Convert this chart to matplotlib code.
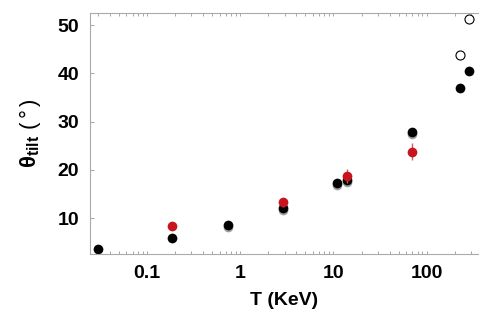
import numpy as np
import matplotlib
matplotlib.use("Agg")
import matplotlib.pyplot as plt
from matplotlib.ticker import LogLocator, NullFormatter, FixedLocator

plt.rcParams['font.family'] = ['Liberation Sans', 'DejaVu Sans']
plt.rcParams['mathtext.fontset'] = 'custom'
plt.rcParams['mathtext.bf'] = 'Liberation Sans:bold'
plt.rcParams['mathtext.rm'] = 'Liberation Sans'

# black points (filled)
black_T = [0.0296, 0.186, 0.74, 2.9, 11.0, 13.8, 69, 227, 283]
black_theta = [3.6, 5.9, 8.6, 12.1, 17.2, 18.0, 27.9, 36.9, 40.4]

# gray shadow points
gray_T = [0.74, 2.9, 11.0, 13.8, 69]
gray_theta = [8.1, 11.8, 16.8, 17.6, 27.5]

# red points with error bars
red_T = [0.186, 2.9, 13.8, 69]
red_theta = [8.35, 13.3, 18.7, 23.8]
red_err = [0.4, 0.9, 1.4, 1.8]

# open circles
open_T = [227, 283]
open_theta = [43.9, 51.2]

fig = plt.figure(figsize=(4.85, 3.21), dpi=100)
ax = fig.add_axes([0.1856, 0.2087, 0.80, 0.7508])

ax.plot(gray_T, gray_theta, 'o', color='#a0a0a0', ms=7, mec='none')
ax.plot(black_T, black_theta, 'o', color='black', ms=7, mec='none')
ax.errorbar(red_T, red_theta, yerr=red_err, fmt='o', color='#c8141e',
            ms=7, mec='none', elinewidth=1.0, capsize=0, ecolor='#d06060')
ax.plot(open_T, open_theta, 'o', mfc='white', mec='black', ms=6.5, mew=0.8)

ax.set_xscale('log')
ax.set_xlim(0.0245, 355)
ax.set_ylim(2.6, 52.5)

ax.xaxis.set_major_locator(FixedLocator([0.1, 1, 10, 100]))
ax.set_xticklabels(['0.1', '1', '10', '100'])
ax.xaxis.set_minor_locator(LogLocator(base=10, subs=np.arange(2, 10)))
ax.xaxis.set_minor_formatter(NullFormatter())
ax.set_yticks([10, 20, 30, 40, 50])

ax.tick_params(axis='both', which='both', direction='in', colors='#999999',
               labelcolor='black', labelsize=14, width=0.6)
ax.tick_params(axis='x', which='both', top=True, length=2.5, pad=8)
ax.tick_params(axis='y', which='major', length=3, pad=8)
for lab in ax.get_xticklabels() + ax.get_yticklabels():
    lab.set_fontweight('bold')

for s in ax.spines.values():
    s.set_color('#aaaaaa')
    s.set_linewidth(0.8)
ax.spines['right'].set_visible(False)

ax.set_xlabel('T (KeV)', fontsize=14, fontweight='bold', labelpad=7)
ax.set_ylabel(r'$\mathbf{θ}_{\mathbf{tilt}}$ $\mathrm{(\,°\,)}$', fontsize=16, labelpad=10)

fig.savefig('out.png', dpi=100)
